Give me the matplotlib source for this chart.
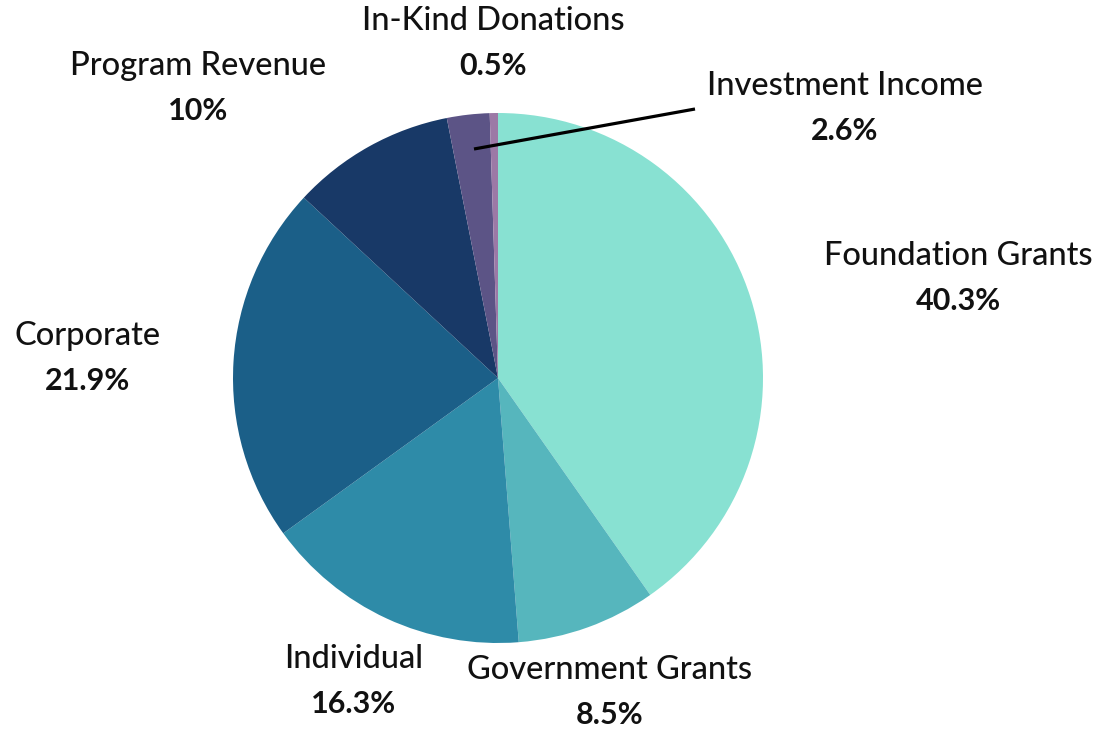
import matplotlib.pyplot as plt

categories = ['Foundation Grants', 'Government Grants', 'Individual', 'Corporate',
              'Program Revenue', 'Investment Income', 'In-Kind Donations']
values = [40.3, 8.5, 16.3, 21.9, 10, 2.6, 0.5]
pct_labels = ['40.3%', '8.5%', '16.3%', '21.9%', '10%', '2.6%', '0.5%']

colors = ['#88e1d2', '#56b6bd', '#2e8ba8', '#1b5f88', '#183967', '#5c5486', '#9c79a6']

# label centres in pixel-like units (y from the bottom)
label_pos = [(958, 477), (610, 63), (354, 74), (88, 397),
             (198, 667), (845, 647), (493, 712)]

W, H = 1106, 734
fig = plt.figure(figsize=(W / 100, H / 100), dpi=100)
ax = fig.add_axes([0, 0, 1, 1])

cx, cy, r = 498, 356, 265
wedges, _ = ax.pie(values, colors=colors, startangle=90, counterclock=False,
                   center=(cx, cy), radius=r, frame=True,
                   wedgeprops=dict(linewidth=0))
ax.set_xlim(0, W)
ax.set_ylim(0, H)
ax.set_aspect('equal')
ax.axis('off')

for name, pct, (x, y) in zip(categories, pct_labels, label_pos):
    ax.text(x, y + 1, name, ha='center', va='center', fontsize=23.5,
            family='Lato', fontweight='medium', color='#111111')
    ax.text(x, y - 44, pct, ha='center', va='center', fontsize=22,
            family='Lato', fontweight='bold', color='#111111')

# leader line for the small Investment Income slice
ax.plot([474, 695], [H - 149, H - 109], color='black', lw=2.3,
        solid_capstyle='butt')

fig.savefig('out.png', dpi=100)
